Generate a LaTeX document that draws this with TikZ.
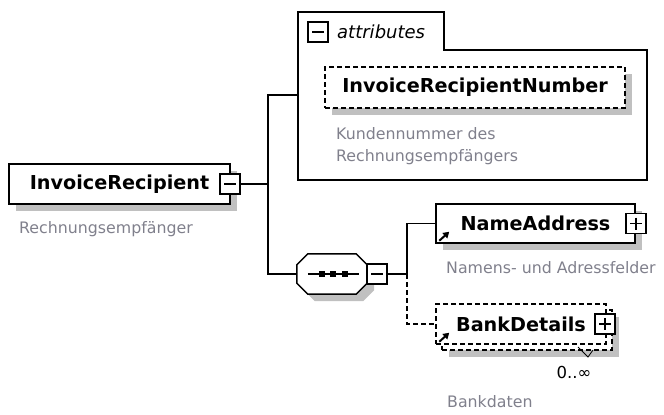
\documentclass[tikz,border=0pt]{standalone}
\usepackage{fontspec}
\setmainfont{DejaVu Sans}
\usetikzlibrary{shadows,arrows.meta}
\definecolor{descgray}{RGB}{128,128,140}
\definecolor{shadegray}{RGB}{192,192,192}

\begin{document}
\begin{tikzpicture}[x=1pt,y=-1pt,
    every node/.style={inner sep=0pt},
    box/.style={draw,fill=white,line width=1.5pt,minimum height=40pt,
      font=\fontsize{19.2}{23}\bfseries\selectfont},
    shaded/.style={drop shadow={shadow xshift=7pt,shadow yshift=-7pt,fill=shadegray,opacity=1}},
    optional/.style={dash pattern=on 5pt off 3pt},
    conn/.style={line width=1.4pt},
    desc/.style={anchor=west,text=descgray,font=\fontsize{15.8}{22}\selectfont,align=left},
    toggle/.style={draw,fill=white,line width=1.3pt,minimum size=20pt},
    minusbox/.style={toggle,path picture={
      \draw[line width=1.3pt] ([xshift=4pt]path picture bounding box.west) -- ([xshift=-4pt]path picture bounding box.east);}},
    plusbox/.style={toggle,path picture={
      \draw[line width=1.3pt] ([xshift=4pt]path picture bounding box.west) -- ([xshift=-4pt]path picture bounding box.east);
      \draw[line width=1.3pt] ([yshift=-4pt]path picture bounding box.north) -- ([yshift=4pt]path picture bounding box.south);}},
    refarrow/.style={line width=2pt,-{Triangle[length=6pt,width=7pt]}}]

  \useasboundingbox (0,0) rectangle (664,415);

  % attributes frame
  \draw[line width=1.5pt] (298,12) -- (444,12) -- (444,50) -- (647,50) -- (647,180) -- (298,180) -- cycle;
  \coordinate (attrin) at (298,95);
  \node[minusbox] (attrtog) at (318,32) {};
  \node[anchor=west,font=\fontsize{18}{22}\itshape\selectfont] (attrlabel) at (337,32) {attributes};

  % elements
  \node[box,shaded,minimum width=221pt] (root) at (119.5,184) {InvoiceRecipient};
  \node[minusbox] (roottog) at (230,184) {};
  \node[desc] (rootdesc) at (19,229) {Rechnungsempfänger};

  \node[box,shaded,optional,minimum width=300pt,minimum height=41pt] (number) at (475,87.5) {InvoiceRecipientNumber};
  \node[desc] (numdesc) at (336,146) {Kundennummer des\\Rechnungsempfängers};

  \node[box,shaded,minimum width=199pt,minimum height=39pt] (name) at (535.5,223.5) {NameAddress};
  \node[plusbox] (nametog) at (636,223.5) {};
  \node[desc] (namedesc) at (446,268) {Namens- und Adressfelder};

  \node[box,shaded,optional,minimum width=170pt] (bankback) at (527,330) {};
  \node[box,optional,minimum width=170pt] (bank) at (521,324) {BankDetails};
  \node[plusbox] (banktog) at (605,324) {};
  \draw[line width=0.8pt] (578,347) -- (588,357) -- (593,350);
  \node[font=\fontsize{16.5}{20}\selectfont] (occurs) at (574,372) {0..∞};
  \node[desc] (bankdesc) at (447,402) {Bankdaten};

  \draw[refarrow] ([shift={(4,-3)}]name.south west) -- ++(10,-9);
  \draw[refarrow] ([shift={(4,-3)}]bank.south west) -- ++(10,-9);

  % sequence compositor
  \node (seq) at (332,274) [minimum width=70pt,minimum height=40pt] {};
  \path[draw,fill=white,line width=1.5pt,shaded]
    ([xshift=11pt]seq.north west) -- ([xshift=-11pt]seq.north east)
    -- ([yshift=-11pt]seq.north east) -- ([yshift=11pt]seq.south east)
    -- ([xshift=-11pt]seq.south east) -- ([xshift=11pt]seq.south west)
    -- ([yshift=11pt]seq.south west) -- ([yshift=-11pt]seq.north west) -- cycle;
  \draw[line width=1.3pt] ([xshift=11pt]seq.west) -- ([xshift=-8pt]seq.east);
  \foreach \dx in {-10,1,13}
    \fill ([shift={(\dx-3,-3)}]seq.center) rectangle ++(6,6);
  \node[minusbox] (seqtog) at (377,274) {};

  % connectors
  \coordinate (fork) at (268,184);
  \coordinate (fork2) at (407,274);
  \draw[conn] (roottog) -- (fork);
  \draw[conn] (attrin) -| (fork) |- (seq.west);
  \draw[conn] (seqtog) -- (fork2) |- (name.west);
  \draw[conn,optional] (fork2) |- (bank.west);

\end{tikzpicture}
\end{document}
